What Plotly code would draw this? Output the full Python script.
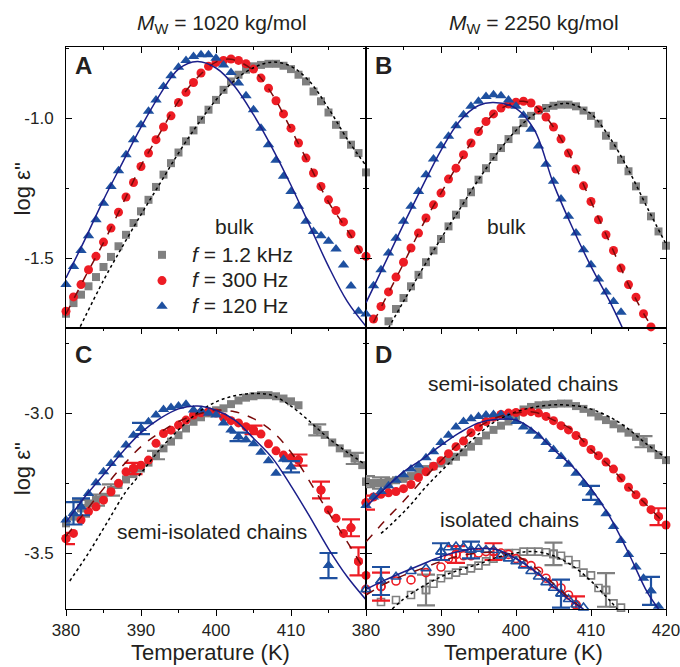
import plotly.graph_objects as go

# ---------------- data ----------------
# Panel A: bulk, Mw = 1020 kg/mol
A_T_1k2 = list(range(380, 421))
A_1k2 = [-1.699, -1.661, -1.631, -1.601, -1.568, -1.532, -1.496, -1.458, -1.417, -1.375,
         -1.333, -1.292, -1.246, -1.202, -1.161, -1.123, -1.083, -1.044, -1.006, -0.970,
         -0.935, -0.899, -0.869, -0.845, -0.827, -0.815, -0.810, -0.806, -0.806, -0.813,
         -0.825, -0.845, -0.869, -0.905, -0.940, -0.980, -1.024, -1.060, -1.095, -1.125,
         -1.194]
A_T_300 = list(range(380, 421))
A_300 = [-1.690, -1.639, -1.595, -1.542, -1.494, -1.443, -1.393, -1.336, -1.282, -1.230,
         -1.173, -1.125, -1.077, -1.032, -0.992, -0.944, -0.908, -0.873, -0.839, -0.815,
         -0.801, -0.794, -0.789, -0.794, -0.806, -0.825, -0.857, -0.893, -0.938, -0.985,
         -1.036, -1.089, -1.143, -1.196, -1.244, -1.292, -1.330, -1.371, -1.414, -1.470,
         -1.494]
A_T_120 = list(range(380, 420))
A_120 = [-1.595, -1.530, -1.473, -1.420, -1.363, -1.304, -1.244, -1.188, -1.131, -1.077,
         -1.024, -0.976, -0.935, -0.887, -0.849, -0.818, -0.794, -0.780, -0.774, -0.774,
         -0.786, -0.810, -0.837, -0.875, -0.920, -0.970, -1.036, -1.095, -1.151, -1.208,
         -1.262, -1.315, -1.369, -1.405, -1.420, -1.440, -1.468, -1.525, -1.600, -1.690]
A_fit_T_dot = [381.9, 385, 387.5, 390, 392.5, 395, 397.5, 400, 402.5, 405, 407.5, 410, 412.5, 415, 417.5, 420]
A_fit_dot = [-1.745, -1.58, -1.46, -1.345, -1.235, -1.125, -1.025, -0.935, -0.865, -0.82, -0.80, -0.815, -0.87, -0.965, -1.075, -1.17]
A_fit_T_dash = [380, 382.5, 385, 387.5, 390, 392.5, 395, 397.5, 400, 402, 405, 407.5, 410, 412.5, 415, 417.5, 420]
A_fit_dash = [-1.70, -1.57, -1.445, -1.31, -1.17, -1.055, -0.94, -0.856, -0.80, -0.79, -0.83, -0.915, -1.04, -1.17, -1.30, -1.40, -1.51]
A_fit_T_sol = [380, 382.5, 385, 387.5, 390, 392.5, 395, 397.5, 400, 402.5, 405, 407.5, 410, 412.5, 415, 417.5, 420]
A_fit_sol = [-1.571, -1.435, -1.292, -1.161, -1.032, -0.917, -0.825, -0.798, -0.821, -0.887, -0.988, -1.107, -1.240, -1.385, -1.530, -1.655, -1.744]

# Panel B: bulk, Mw = 2250 kg/mol
B_T_1k2 = list(range(383, 421))
B_1k2 = [-1.726, -1.682, -1.643, -1.601, -1.560, -1.515, -1.473, -1.432, -1.387, -1.345,
         -1.304, -1.265, -1.220, -1.179, -1.139, -1.107, -1.075, -1.044, -1.018, -0.992,
         -0.973, -0.964, -0.956, -0.952, -0.952, -0.958, -0.973, -0.992, -1.020, -1.063,
         -1.099, -1.149, -1.190, -1.244, -1.292, -1.351, -1.405, -1.456]
B_T_300 = list(range(381, 419))
B_300 = [-1.718, -1.673, -1.621, -1.568, -1.515, -1.464, -1.411, -1.357, -1.310, -1.268,
         -1.218, -1.179, -1.131, -1.089, -1.048, -1.012, -0.985, -0.964, -0.950, -0.943,
         -0.940, -0.946, -0.970, -0.996, -1.032, -1.075, -1.125, -1.182, -1.242, -1.298,
         -1.363, -1.417, -1.473, -1.536, -1.595, -1.640, -1.699, -1.746]
B_T_120 = list(range(380, 415))
B_120 = [-1.700, -1.599, -1.542, -1.482, -1.429, -1.369, -1.315, -1.262, -1.202, -1.146,
         -1.099, -1.065, -1.027, -0.988, -0.958, -0.940, -0.923, -0.917, -0.920, -0.935,
         -0.958, -0.990, -1.040, -1.100, -1.165, -1.226, -1.289, -1.351, -1.411, -1.470,
         -1.524, -1.575, -1.621, -1.655, -1.694]
B_fit_T_dot = [383, 385, 387.5, 390, 392.5, 395, 397.5, 400, 402.5, 405, 407, 410, 412.5, 415, 417.5, 420]
B_fit_dot = [-1.75, -1.655, -1.54, -1.43, -1.325, -1.22, -1.125, -1.044, -0.985, -0.955, -0.948, -0.985, -1.07, -1.185, -1.32, -1.45]
B_fit_T_dash = [381, 382.5, 385, 387.5, 390, 392.5, 395, 397.5, 400, 401, 402.5, 405, 407.5, 410, 412.5, 415, 417.5, 418.3]
B_fit_dash = [-1.73, -1.65, -1.52, -1.385, -1.268, -1.155, -1.048, -0.975, -0.943, -0.94, -0.955, -1.032, -1.15, -1.298, -1.445, -1.595, -1.72, -1.75]
B_fit_T_sol = [380, 382.5, 385, 387.5, 390, 392.5, 395, 397, 400, 402.5, 405, 407.5, 410, 412.5, 414.2]
B_fit_sol = [-1.66, -1.52, -1.38, -1.245, -1.115, -1.01, -0.955, -0.944, -0.965, -1.045, -1.235, -1.39, -1.53, -1.655, -1.75]

# Panel C: semi-isolated chains, Mw = 1020 kg/mol
C_T_1k2 = [380, 381, 382, 383, 384, 385, 386, 387, 388, 389, 390, 391, 392, 393, 394, 395,
           396, 397, 398, 399, 400, 401, 402, 403, 404, 405, 406, 407, 408, 409, 410, 411,
           413.5, 414.5, 415.5, 416.5, 417.5, 418.5, 419.5]
C_1k2 = [-3.394, -3.370, -3.340, -3.323, -3.311, -3.299, -3.275, -3.257, -3.237, -3.218,
         -3.198, -3.177, -3.150, -3.126, -3.102, -3.079, -3.055, -3.031, -3.015, -3.001,
         -2.990, -2.983, -2.968, -2.955, -2.945, -2.940, -2.936, -2.936, -2.940, -2.948,
         -2.958, -2.972, -3.060, -3.078, -3.105, -3.126, -3.144, -3.162, -3.186]
C_err_1k2 = {382: 0.03, 384: 0.02, 386: 0.02, 392: 0.015, 413.5: 0.02, 418.5: 0.02}
C_T_300 = [380, 381, 382, 383, 384, 385, 386, 387, 388, 389, 390, 391, 392, 393, 394, 395,
           396, 397, 398, 399, 400, 401, 402, 403, 404, 405, 406, 407, 408, 409, 410, 411,
           414, 415, 416, 417, 418, 419, 420]
C_300 = [-3.448, -3.430, -3.382, -3.352, -3.335, -3.311, -3.281, -3.251, -3.210, -3.198,
         -3.186, -3.168, -3.108, -3.073, -3.061, -3.043, -3.025, -3.007, -2.999, -2.995,
         -3.000, -3.015, -3.027, -3.035, -3.049, -3.060, -3.075, -3.110, -3.135, -3.150,
         -3.160, -3.168, -3.275, -3.346, -3.376, -3.430, -3.410, -3.530, -3.580]
C_err_300 = {380: 0.02, 389: 0.02, 405: 0.015, 411: 0.02, 414: 0.03, 418: 0.03, 419: 0.05}
C_T_120 = [380, 381, 382, 383, 384, 385, 386, 387, 388, 389, 390, 391, 392, 393, 394, 395,
           396, 397, 398, 399, 400, 401, 402, 403, 404, 405, 406, 407, 408, 409, 410, 415]
C_120 = [-3.382, -3.358, -3.335, -3.287, -3.249, -3.210, -3.180, -3.150, -3.114, -3.079,
         -3.055, -3.031, -3.007, -2.987, -2.980, -2.975, -2.968, -2.989, -2.992, -3.001,
         -3.007, -3.035, -3.060, -3.085, -3.095, -3.110, -3.140, -3.170, -3.215, -3.165,
         -3.192, -3.545]
C_err_120 = {381: 0.04, 382: 0.03, 390: 0.02, 403: 0.015, 410: 0.02, 415: 0.045}
C_fit_T_dot = [380.5, 383, 385.5, 388, 390, 392.5, 395, 397.5, 400, 402.5, 405, 407.5, 410, 412.5, 415, 417.5, 420]
C_fit_dot = [-3.60, -3.50, -3.39, -3.28, -3.215, -3.13, -3.06, -3.00, -2.96, -2.938, -2.93, -2.937, -2.975, -3.03, -3.09, -3.14, -3.185]
C_fit_T_dash = [380, 382.5, 385, 387.5, 390, 392.5, 395, 397.5, 400, 402.5, 405, 407.5, 410, 412.5, 415, 417.5, 420]
C_fit_dash = [-3.44, -3.355, -3.27, -3.19, -3.12, -3.07, -3.03, -3.005, -2.99, -2.995, -3.02, -3.065, -3.14, -3.245, -3.355, -3.46, -3.57]
C_fit_T_sol = [380, 382.5, 385, 387.5, 390, 392.5, 395, 397.5, 400, 402.5, 405, 407.5, 410, 412.5, 415, 417.5, 420]
C_fit_sol = [-3.39, -3.30, -3.22, -3.14, -3.07, -3.02, -2.985, -2.975, -2.99, -3.025, -3.09, -3.16, -3.26, -3.37, -3.485, -3.585, -3.667]

# Panel D: semi-isolated chains, Mw = 2250 kg/mol
D_T_1k2 = list(range(380, 421))
D_1k2 = [-3.245, -3.250, -3.250, -3.245, -3.240, -3.235, -3.225, -3.210, -3.200, -3.190,
         -3.180, -3.170, -3.156, -3.140, -3.120, -3.100, -3.080, -3.060, -3.045, -3.030,
         -3.010, -2.987, -2.978, -2.972, -2.970, -2.968, -2.966, -2.966, -2.975, -2.985,
         -2.998, -3.012, -3.025, -3.040, -3.055, -3.070, -3.085, -3.102, -3.126, -3.150,
         -3.168]
D_err_1k2 = {380: 0.02, 382: 0.02, 417: 0.02}
D_T_300 = list(range(380, 421))
D_300 = [-3.320, -3.300, -3.290, -3.285, -3.280, -3.270, -3.255, -3.230, -3.210, -3.190,
         -3.170, -3.145, -3.120, -3.100, -3.070, -3.050, -3.030, -3.015, -3.005, -3.000,
         -2.998, -2.997, -2.995, -3.000, -3.012, -3.027, -3.045, -3.060, -3.080, -3.105,
         -3.130, -3.152, -3.175, -3.200, -3.232, -3.265, -3.292, -3.318, -3.345, -3.370,
         -3.400]
D_err_300 = {380: 0.025, 419: 0.03}
D_T_120 = list(range(380, 420))
D_120 = [-3.330, -3.300, -3.280, -3.260, -3.240, -3.220, -3.200, -3.186, -3.160, -3.138,
         -3.105, -3.079, -3.050, -3.030, -3.020, -3.012, -3.007, -3.005, -3.005, -3.015,
         -3.030, -3.050, -3.065, -3.083, -3.105, -3.130, -3.155, -3.183, -3.215, -3.250,
         -3.285, -3.320, -3.360, -3.405, -3.455, -3.505, -3.550, -3.590, -3.635, -3.690]
D_err_120 = {410: 0.025, 418: 0.05}
D_fit_T_dot = [382, 383.5, 385.7, 388, 390.6, 393.7, 396.8, 399.5, 402.2, 404.8, 406.6, 409.3, 412.4, 414.6, 417.3, 420]
D_fit_dot = [-3.43, -3.394, -3.335, -3.263, -3.192, -3.108, -3.037, -3.001, -2.98, -2.971, -2.971, -2.98, -3.013, -3.049, -3.108, -3.16]
D_fit_T_dash = [380, 382.5, 385, 387.5, 390, 392.5, 395, 397.5, 400, 402.5, 405, 407.5, 410, 412.5, 415, 417.5, 420]
D_fit_dash = [-3.46, -3.385, -3.315, -3.24, -3.17, -3.105, -3.05, -3.015, -3.0, -2.997, -3.025, -3.06, -3.13, -3.19, -3.265, -3.33, -3.40]
D_fit_T_sol = [380, 382.5, 385, 387.5, 390, 392.5, 395, 397.5, 400, 402.5, 405, 407.5, 410, 412.5, 415, 417.5, 419]
D_fit_sol = [-3.335, -3.27, -3.21, -3.165, -3.115, -3.07, -3.035, -3.022, -3.025, -3.065, -3.13, -3.19, -3.27, -3.37, -3.50, -3.64, -3.70]

# Panel D: isolated chains (open symbols)
Di_T_1k2 = [382, 384, 386, 388, 389, 390, 391, 392, 393, 394, 395, 396, 397, 398, 399, 400,
            401, 402, 403, 404, 405, 406, 407, 408, 409, 410, 411, 412, 413, 414]
Di_1k2 = [-3.675, -3.668, -3.650, -3.632, -3.610, -3.590, -3.578, -3.570, -3.563, -3.555,
          -3.545, -3.530, -3.520, -3.510, -3.500, -3.500, -3.495, -3.495, -3.495, -3.497,
          -3.503, -3.510, -3.525, -3.540, -3.570, -3.580, -3.625, -3.632, -3.680, -3.695]
Di_err_1k2 = {388: 0.055, 405: 0.04, 412: 0.06}
Di_T_300 = [380, 382, 384, 386, 388, 390, 391, 392, 393, 394, 395, 396, 397, 398, 399, 400,
            401, 402, 403, 404, 405, 406, 407, 408]
Di_300 = [-3.630, -3.620, -3.600, -3.596, -3.570, -3.550, -3.520, -3.505, -3.510, -3.510,
          -3.500, -3.495, -3.495, -3.500, -3.505, -3.520, -3.535, -3.545, -3.565, -3.590,
          -3.610, -3.625, -3.650, -3.685]
Di_err_300 = {382: 0.05, 392: 0.03, 397: 0.03, 408: 0.03}
Di_T_120 = [380, 382, 384, 386, 388, 390, 391, 392, 393, 394, 395, 396, 397, 398, 399, 400,
            401, 402, 403, 404, 405, 406, 407, 408, 409]
Di_120 = [-3.630, -3.600, -3.585, -3.565, -3.555, -3.495, -3.480, -3.477, -3.480, -3.489,
          -3.485, -3.489, -3.490, -3.510, -3.520, -3.530, -3.545, -3.565, -3.585, -3.605,
          -3.625, -3.645, -3.665, -3.685, -3.695]
Di_err_120 = {382: 0.05, 390: 0.03, 394: 0.03, 406: 0.05}
Di_fit_T_dot = [383.5, 385, 387.5, 390, 392.5, 395, 397.5, 400, 402.5, 405, 407.5, 410, 412.5, 413.5]
Di_fit_dot = [-3.70, -3.665, -3.62, -3.585, -3.56, -3.54, -3.515, -3.50, -3.495, -3.51, -3.545, -3.60, -3.67, -3.70]
Di_fit_T_dash = [380, 382.5, 385, 387.5, 390, 392.5, 395, 397.5, 400, 402.5, 405, 407.5, 409]
Di_fit_dash = [-3.65, -3.61, -3.58, -3.555, -3.53, -3.51, -3.50, -3.497, -3.51, -3.55, -3.61, -3.67, -3.70]
Di_fit_T_sol = [380, 382.5, 385, 387.5, 390, 392.5, 395, 397.5, 400, 402.5, 405, 407.5, 409]
Di_fit_sol = [-3.63, -3.597, -3.568, -3.54, -3.513, -3.494, -3.484, -3.488, -3.52, -3.565, -3.62, -3.675, -3.70]

X_TICKS_LEFT = [380, 390, 400, 410]
X_TICKS_RIGHT = [380, 390, 400, 410, 420]
Y_TICKS_TOP = [-1.5, -1.0]
Y_TICKS_BOT = [-3.5, -3.0]

# ---------------- style ----------------
GRAY = '#808080'
RED = '#ED1C24'
BLUE = '#1E50A0'
NAVY = '#1B1F8A'
DRED = '#7A0A0A'
FONT = 'Liberation Sans, Arial, sans-serif'
INK = '#231F20'

fig = go.Figure()


def markers(T, v, ax, color, symbol, size, name=None, legend=False, errs=None, open_=False):
    m = dict(color=color, symbol=symbol, size=size)
    m['line'] = dict(color=color, width=1.6) if open_ else dict(width=0)
    fig.add_trace(go.Scatter(x=T, y=v, mode='markers', marker=m, name=name,
                             showlegend=legend, xaxis=ax[0], yaxis=ax[1],
                             cliponaxis=False, hoverinfo='skip'))
    if errs:
        Te = [t for t in T if t in errs]
        ve = [v[T.index(t)] for t in Te]
        ee = [errs[t] for t in Te]
        fig.add_trace(go.Scatter(x=Te, y=ve, mode='markers', marker=m, showlegend=False,
                                 xaxis=ax[0], yaxis=ax[1], cliponaxis=False, hoverinfo='skip',
                                 error_y=dict(type='data', array=ee, color=color,
                                              thickness=2.2, width=9)))


def fitline(T, v, ax, color, dash, width=1.5):
    fig.add_trace(go.Scatter(x=T, y=v, mode='lines',
                             line=dict(color=color, dash=dash, width=width, shape='spline', smoothing=1.0),
                             showlegend=False, xaxis=ax[0], yaxis=ax[1], hoverinfo='skip'))


AX_A, AX_B, AX_C, AX_D = ('x', 'y'), ('x2', 'y2'), ('x3', 'y3'), ('x4', 'y4')
LEG = '<span style="font-size:21px"><i>f</i> = %s</span>'

# Panel A
markers(A_T_1k2, A_1k2, AX_A, GRAY, 'square', 8, LEG % '1.2 kHz', True)
markers(A_T_300, A_300, AX_A, RED, 'circle', 9, LEG % '300 Hz', True)
markers(A_T_120, A_120, AX_A, BLUE, 'triangle-up', 10, LEG % '120 Hz', True)
fitline(A_fit_T_dot, A_fit_dot, AX_A, 'black', 'dot')
fitline(A_fit_T_dash, A_fit_dash, AX_A, DRED, 'dash')
fitline(A_fit_T_sol, A_fit_sol, AX_A, NAVY, 'solid')
# Panel B
markers(B_T_1k2, B_1k2, AX_B, GRAY, 'square', 8)
markers(B_T_300, B_300, AX_B, RED, 'circle', 9)
markers(B_T_120, B_120, AX_B, BLUE, 'triangle-up', 10)
fitline(B_fit_T_dot, B_fit_dot, AX_B, 'black', 'dot')
fitline(B_fit_T_dash, B_fit_dash, AX_B, DRED, 'dash')
fitline(B_fit_T_sol, B_fit_sol, AX_B, NAVY, 'solid')
# Panel C
markers(C_T_1k2, C_1k2, AX_C, GRAY, 'square', 8, errs=C_err_1k2)
markers(C_T_300, C_300, AX_C, RED, 'circle', 9, errs=C_err_300)
markers(C_T_120, C_120, AX_C, BLUE, 'triangle-up', 10, errs=C_err_120)
fitline(C_fit_T_dot, C_fit_dot, AX_C, 'black', 'dot')
fitline(C_fit_T_dash, C_fit_dash, AX_C, DRED, 'dash')
fitline(C_fit_T_sol, C_fit_sol, AX_C, NAVY, 'solid')
# Panel D
markers(D_T_1k2, D_1k2, AX_D, GRAY, 'square', 8, errs=D_err_1k2)
markers(D_T_300, D_300, AX_D, RED, 'circle', 9, errs=D_err_300)
markers(D_T_120, D_120, AX_D, BLUE, 'triangle-up', 10, errs=D_err_120)
markers(Di_T_1k2, Di_1k2, AX_D, GRAY, 'square-open', 7, errs=Di_err_1k2, open_=True)
markers(Di_T_300, Di_300, AX_D, RED, 'circle-open', 8, errs=Di_err_300, open_=True)
markers(Di_T_120, Di_120, AX_D, BLUE, 'triangle-up-open', 9, errs=Di_err_120, open_=True)
fitline(D_fit_T_dot, D_fit_dot, AX_D, 'black', 'dot')
fitline(D_fit_T_dash, D_fit_dash, AX_D, DRED, 'dash')
fitline(D_fit_T_sol, D_fit_sol, AX_D, NAVY, 'solid')
fitline(Di_fit_T_dot, Di_fit_dot, AX_D, 'black', 'dot')
fitline(Di_fit_T_dash, Di_fit_dash, AX_D, DRED, 'dash')
fitline(Di_fit_T_sol, Di_fit_sol, AX_D, NAVY, 'solid')

# empty traces so that the overlay tick axes get drawn
fig.add_trace(go.Scatter(x=[None], y=[None], xaxis='x5', yaxis='y3', showlegend=False, hoverinfo='skip'))
fig.add_trace(go.Scatter(x=[None], y=[None], xaxis='x6', yaxis='y4', showlegend=False, hoverinfo='skip'))

XR = [380, 420]
YR_TOP = [-1.75, -0.746]
YR_BOT = [-3.70, -2.696]

common = dict(showline=True, linecolor='black', linewidth=1, showgrid=False, zeroline=False,
              ticklen=6, tickwidth=1, tickcolor='black', automargin=False,
              ticklabeloverflow='allow',
              tickfont=dict(family=FONT, size=17, color=INK))


def xaxis(domain, anchor, tickvals, labels, side, ticks, mirror, overlaying=None):
    d = dict(common, domain=domain, anchor=anchor, range=XR, tickmode='array', tickvals=tickvals,
             showticklabels=labels, side=side, ticks=ticks, mirror=mirror,
             minor=dict(dtick=5, tick0=380, ticklen=3, ticks=ticks, tickcolor='black'))
    if overlaying:
        d['overlaying'] = overlaying
    return d


def yaxis(domain, anchor, yr, tickvals, labels):
    return dict(common, domain=domain, anchor=anchor, range=yr, tickmode='array', tickvals=tickvals,
                ticktext=['%.1f' % t for t in tickvals],
                showticklabels=labels, ticks='inside', mirror='ticks', ticklabelstandoff=8,
                minor=dict(dtick=0.25, tick0=-1.0, ticklen=3, ticks='inside', tickcolor='black'))


fig.update_layout(
    width=680, height=667,
    margin=dict(l=66, r=14, t=47, b=58, autoexpand=False),
    paper_bgcolor='white', plot_bgcolor='white',
    font=dict(family=FONT, size=21, color=INK),
    xaxis=xaxis([0, 0.5], 'y', X_TICKS_LEFT, False, 'top', 'inside', True),
    xaxis2=xaxis([0.5, 1], 'y2', X_TICKS_RIGHT, False, 'top', 'inside', True),
    xaxis3=xaxis([0, 0.5], 'y3', X_TICKS_LEFT, True, 'bottom', 'outside', True),
    xaxis4=xaxis([0.5, 1], 'y4', X_TICKS_RIGHT, True, 'bottom', 'outside', True),
    xaxis5=xaxis([0, 0.5], 'y3', X_TICKS_LEFT, False, 'top', 'inside', False, 'x3'),
    xaxis6=xaxis([0.5, 1], 'y4', X_TICKS_RIGHT, False, 'top', 'inside', False, 'x4'),
    yaxis=yaxis([0.5, 1], 'x', YR_TOP, Y_TICKS_TOP, True),
    yaxis2=yaxis([0.5, 1], 'x2', YR_TOP, Y_TICKS_TOP, False),
    yaxis3=yaxis([0, 0.5], 'x3', YR_BOT, Y_TICKS_BOT, True),
    yaxis4=yaxis([0, 0.5], 'x4', YR_BOT, Y_TICKS_BOT, False),
    legend=dict(x=0.110, y=0.662, xanchor='left', yanchor='top', bgcolor='rgba(0,0,0,0)',
                font=dict(family=FONT, size=17.5, color=INK), itemwidth=50, tracegroupgap=0),
    showlegend=True,
)

ann = []
# column titles
ann.append(dict(text='<i>M</i><sub>W</sub> = 1020 kg/mol', x=0.26, y=1.041, xref='paper', yref='paper',
                showarrow=False, font=dict(size=21), xanchor='center', yanchor='middle'))
ann.append(dict(text='<i>M</i><sub>W</sub> = 2250 kg/mol', x=0.78, y=1.041, xref='paper', yref='paper',
                showarrow=False, font=dict(size=21), xanchor='center', yanchor='middle'))
# axis titles
for xc in (0.24, 0.762):
    ann.append(dict(text='Temperature (K)', x=xc, y=-0.078, xref='paper', yref='paper',
                    showarrow=False, font=dict(size=22), xanchor='center', yanchor='middle'))
for yc in (0.747, 0.249):
    ann.append(dict(text='log ε"', x=-0.073, y=yc, xref='paper', yref='paper', textangle=-90,
                    showarrow=False, font=dict(size=22), xanchor='center', yanchor='middle'))
# panel letters
for lab, xr, yr, yy in (('A', 'x domain', 'y domain', 0.935), ('B', 'x2 domain', 'y2 domain', 0.935),
                        ('C', 'x3 domain', 'y3 domain', 0.905), ('D', 'x4 domain', 'y4 domain', 0.905)):
    ann.append(dict(text='<b>%s</b>' % lab, x=0.057, y=yy, xref=xr, yref=yr, showarrow=False,
                    font=dict(size=24, color=INK), xanchor='center', yanchor='middle'))
# in-panel labels
ann.append(dict(text='bulk', x=402.5, y=-1.386, xref='x', yref='y', showarrow=False, font=dict(size=21)))
ann.append(dict(text='bulk', x=398.7, y=-1.389, xref='x2', yref='y2', showarrow=False, font=dict(size=21)))
ann.append(dict(text='semi-isolated chains', x=399.4, y=-3.424, xref='x3', yref='y3', showarrow=False, font=dict(size=21)))
ann.append(dict(text='semi-isolated chains', x=400.9, y=-2.896, xref='x4', yref='y4', showarrow=False, font=dict(size=21)))
ann.append(dict(text='isolated chains', x=399.1, y=-3.379, xref='x4', yref='y4', showarrow=False, font=dict(size=21)))
fig.update_layout(annotations=ann)

fig.write_html('out.html', config={'displayModeBar': False},
               post_script="document.body.style.margin='0';")
